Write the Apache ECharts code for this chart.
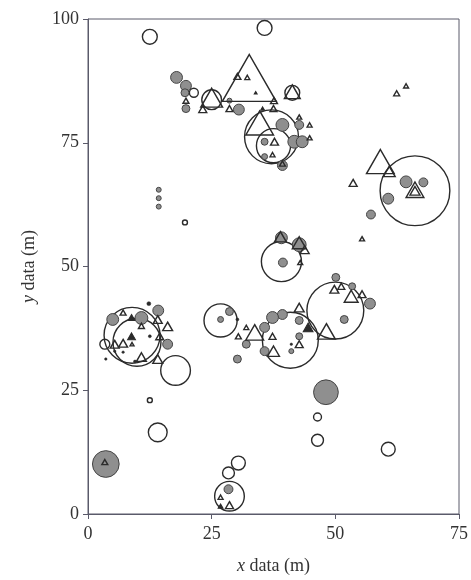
<!DOCTYPE html>
<html>
<head>
<meta charset="utf-8">
<script src="https://cdn.jsdelivr.net/npm/echarts@6/dist/echarts.min.js"></script>
<style>
  html, body { margin: 0; padding: 0; background: #fff; }
  #chart { width: 471px; height: 580px; }
</style>
</head>
<body>
<div id="chart"></div>
<script>
// [x (m), y (m), marker diameter (m)]
var openCircles = [
  [12.5, 96.4, 3.0], [35.7, 98.2, 3.0], [66.1, 65.3, 14.1], [39.1, 51.0, 8.1],
  [50.0, 41.1, 11.5], [40.9, 35.1, 11.3], [26.8, 39.1, 6.7], [8.9, 36.1, 11.3],
  [9.9, 34.7, 9.7], [3.4, 34.3, 2.0], [17.7, 29.0, 6.0], [12.5, 23.0, 1.0],
  [14.1, 16.5, 3.8], [30.4, 10.3, 2.8], [28.4, 8.3, 2.4], [28.6, 3.6, 6.0],
  [46.4, 19.6, 1.6], [46.4, 14.9, 2.4], [60.7, 13.1, 2.8], [19.6, 58.9, 1.0],
  [21.4, 85.1, 1.8], [25.0, 83.7, 4.0], [41.3, 85.1, 3.0], [37.1, 76.2, 10.9],
  [37.5, 74.4, 6.9]
];
var greyCircles = [
  [17.9, 88.2, 2.4], [19.8, 86.5, 2.2], [19.6, 85.1, 1.6], [19.8, 81.9, 1.6],
  [28.6, 83.5, 1.0], [30.5, 81.7, 2.2], [39.3, 78.6, 2.6], [42.7, 78.6, 1.8],
  [41.7, 75.2, 2.6], [43.3, 75.2, 2.4], [35.7, 75.2, 1.4], [35.7, 72.2, 1.2],
  [39.3, 70.4, 2.0], [14.3, 65.5, 1.0], [14.3, 63.8, 1.0], [14.3, 62.1, 1.0],
  [64.3, 67.1, 2.4], [67.8, 67.0, 1.8], [60.7, 63.7, 2.2], [57.2, 60.5, 1.8],
  [39.1, 55.8, 2.4], [42.7, 54.4, 2.8], [39.4, 50.8, 1.8], [50.1, 47.8, 1.6],
  [53.4, 46.0, 1.4], [57.0, 42.5, 2.2], [51.8, 39.3, 1.6], [42.7, 39.1, 1.6],
  [42.7, 35.9, 1.4], [41.1, 32.9, 1.0], [39.3, 40.3, 2.0], [37.3, 39.7, 2.4],
  [35.7, 37.7, 2.0], [35.7, 32.9, 1.8], [32.0, 34.3, 1.6], [30.2, 31.3, 1.6],
  [28.6, 40.9, 1.6], [26.8, 39.3, 1.2], [5.0, 39.3, 2.4], [10.8, 39.6, 2.6],
  [14.2, 41.1, 2.2], [16.1, 34.3, 2.0], [48.1, 24.6, 5.0], [3.6, 10.1, 5.4],
  [28.4, 5.0, 1.8]
];
var openTriangles = [
  [32.6, 88.1, 10.9], [30.2, 88.4, 1.4], [32.2, 88.2, 1.0], [25.0, 84.1, 4.4],
  [23.2, 81.8, 1.6], [19.8, 83.5, 1.2], [28.6, 81.9, 1.4], [37.6, 83.5, 1.4],
  [37.5, 81.9, 1.4], [41.3, 85.3, 3.2], [62.4, 85.0, 1.2], [64.3, 86.5, 1.0],
  [34.7, 79.0, 5.6], [37.7, 75.2, 1.6], [42.7, 80.2, 1.0], [44.8, 78.6, 1.0],
  [44.8, 76.0, 1.0], [37.3, 72.6, 1.0], [39.3, 70.8, 1.2], [59.1, 71.2, 5.6],
  [60.9, 69.2, 2.4], [53.6, 66.9, 1.6], [66.1, 65.5, 3.6], [66.1, 65.3, 2.0],
  [55.4, 55.6, 1.0], [38.9, 56.0, 2.4], [42.7, 54.8, 2.8], [43.8, 53.4, 1.8],
  [42.9, 50.8, 1.0], [49.8, 45.4, 1.8], [51.2, 46.0, 1.4], [53.2, 44.0, 2.8],
  [55.4, 44.4, 1.6], [48.2, 36.9, 3.6], [42.7, 41.7, 2.0], [42.7, 34.3, 1.6],
  [37.5, 32.9, 2.4], [37.3, 35.9, 1.4], [33.7, 36.7, 3.6], [32.0, 37.7, 1.0],
  [30.4, 35.9, 1.2], [7.1, 40.7, 1.2], [10.8, 38.0, 1.2], [14.1, 39.3, 1.8],
  [16.1, 37.9, 2.0], [14.5, 35.9, 1.6], [5.4, 34.3, 1.8], [7.1, 34.5, 1.8],
  [8.9, 34.3, 0.8], [10.8, 31.7, 2.0], [14.1, 31.3, 2.0], [26.8, 3.4, 1.0],
  [28.6, 1.8, 1.6], [3.4, 10.5, 1.2]
];
var blackTriangles = [
  [8.8, 39.7, 1.4], [8.8, 35.9, 1.6], [44.5, 37.7, 2.0], [35.3, 81.9, 0.8],
  [33.9, 85.1, 0.6], [26.8, 1.6, 1.0]
];
var blackDots = [
  [12.3, 42.5, 0.8], [12.5, 35.9, 0.6], [5.4, 32.9, 0.5], [7.1, 32.7, 0.5],
  [3.6, 31.3, 0.5], [9.5, 30.8, 0.6], [41.1, 34.3, 0.5], [30.2, 39.3, 0.6]
];
var xTicks = [0, 25, 50, 75];
var yTicks = [0, 25, 50, 75, 100];

var chart = echarts.init(document.getElementById('chart'));
var serif = '"Liberation Serif", "DejaVu Serif", serif';
var ink = '#2b2b2b';

function axisBase(ticks) {
  return {
    type: 'value',
    min: ticks[0],
    max: ticks[ticks.length - 1],
    interval: ticks[1] - ticks[0],
    splitLine: { show: false },
    axisLine: { show: true, lineStyle: { color: '#5a5a6a', width: 1 } },
    axisTick: { show: true, inside: false, length: 5, lineStyle: { color: '#5a5a6a' } },
    axisLabel: { color: '#333', fontFamily: serif, fontSize: 18 },
    nameLocation: 'middle',
    nameTextStyle: {
      color: '#333', fontFamily: serif, fontSize: 18,
      rich: { i: { fontStyle: 'italic', fontFamily: serif, fontSize: 18, color: '#333' } }
    }
  };
}

var xAxis = axisBase(xTicks);
xAxis.name = '{i|x} data (m)';
xAxis.nameGap = 43;
xAxis.axisLabel.margin = 11;
var yAxis = axisBase(yTicks);
yAxis.name = '{i|y} data (m)';
yAxis.nameGap = 50;
yAxis.axisLabel.margin = 9;

function scatter(name, data, symbol, fill, stroke, lw) {
  return {
    name: name,
    type: 'scatter',
    data: data,
    symbol: symbol,
    silent: true,
    itemStyle: { color: fill, borderColor: stroke, borderWidth: lw, opacity: 1 }
  };
}

var option = {
  animation: false,
  backgroundColor: '#fff',
  grid: { left: 88, right: 11, top: 19, bottom: 65, show: true, borderColor: '#5a5a6a', borderWidth: 1 },
  xAxis: xAxis,
  yAxis: yAxis,
  series: [
    scatter('open circles', openCircles, 'circle', 'rgba(0,0,0,0)', ink, 1.4),
    scatter('grey circles', greyCircles, 'circle', '#8f8f8f', '#444', 1),
    scatter('open triangles', openTriangles, 'triangle', 'rgba(0,0,0,0)', ink, 1.4),
    scatter('black triangles', blackTriangles, 'triangle', ink, ink, 1),
    scatter('black dots', blackDots, 'circle', ink, ink, 0.5)
  ]
};
chart.setOption(option);

// pixels per metre from the axis scale, then size markers in data units
var p0 = chart.convertToPixel({ gridIndex: 0 }, [0, 0]);
var p1 = chart.convertToPixel({ gridIndex: 0 }, [1, 0]);
var k = p1[0] - p0[0];
chart.setOption({
  series: [
    { symbolSize: function (v) { return v[2] * k; } },
    { symbolSize: function (v) { return v[2] * k; } },
    { symbolSize: function (v) { return [v[2] * k, v[2] * k * 0.87]; } },
    { symbolSize: function (v) { return [v[2] * k, v[2] * k * 0.87]; } },
    { symbolSize: function (v) { return v[2] * k; } }
  ]
});
</script>
</body>
</html>
